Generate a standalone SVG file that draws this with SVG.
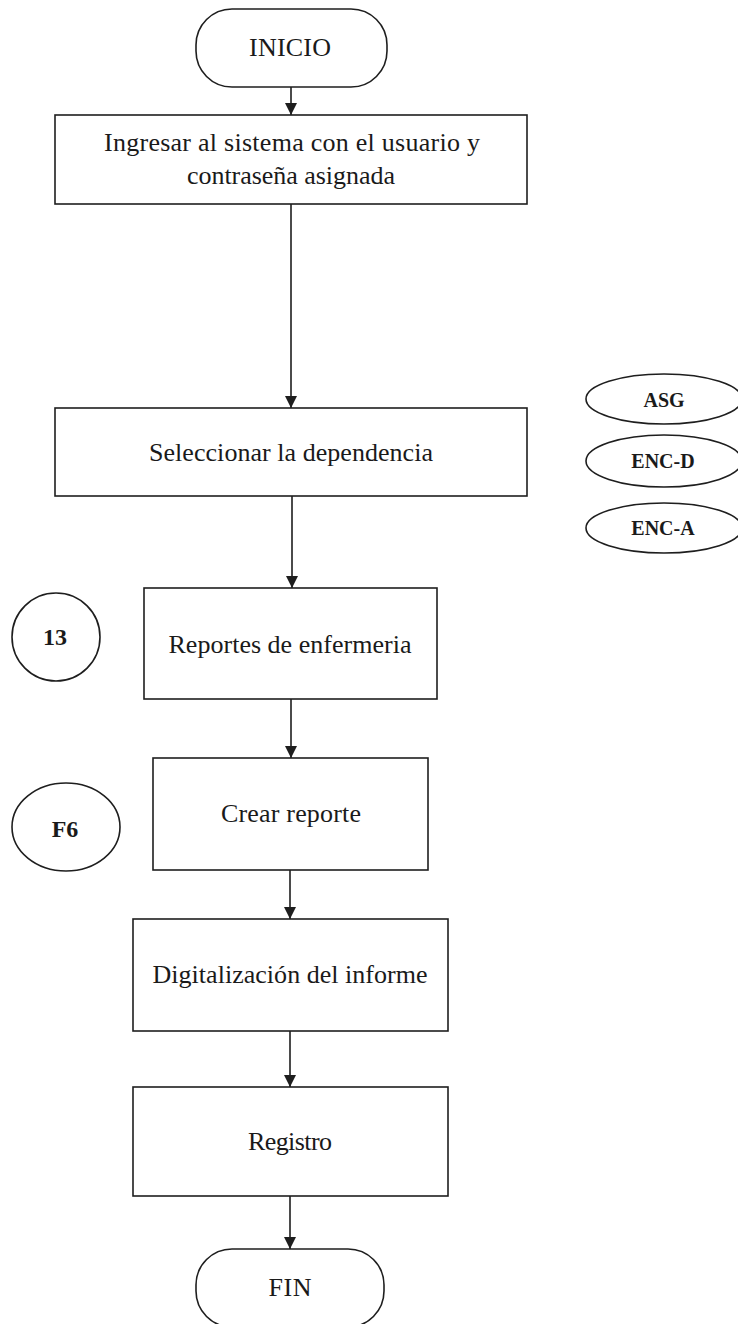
<svg xmlns="http://www.w3.org/2000/svg" width="738" height="1324" viewBox="0 0 738 1324">
  <defs>
    <style>
      .shape { fill: #ffffff; stroke: #1e1e1e; stroke-width: 1.6; }
      .flow { fill: none; stroke: #1e1e1e; stroke-width: 1.6; }
      .label { font-family: "Liberation Serif", "Times New Roman", serif; font-size: 26px; fill: #1a1a1a; text-anchor: middle; }
      .tag { font-family: "Liberation Serif", "Times New Roman", serif; font-size: 24px; font-weight: bold; fill: #1a1a1a; text-anchor: middle; }
      .code { font-family: "Liberation Serif", "Times New Roman", serif; font-size: 20px; font-weight: bold; fill: #1a1a1a; text-anchor: middle; }
    </style>
    <marker id="arrow" viewBox="0 0 12 12" refX="12" refY="6" markerWidth="12" markerHeight="12" markerUnits="userSpaceOnUse" orient="auto">
      <path d="M0,0 L12,6 L0,12 Z" fill="#1e1e1e"/>
    </marker>
  </defs>

  <rect width="738" height="1324" fill="#ffffff"/>

  <!-- connectors -->
  <g id="connectors">
    <line class="flow" x1="291" y1="87" x2="291" y2="115" marker-end="url(#arrow)"/>
    <line class="flow" x1="291" y1="204" x2="291" y2="408" marker-end="url(#arrow)"/>
    <line class="flow" x1="292" y1="496" x2="292" y2="588" marker-end="url(#arrow)"/>
    <line class="flow" x1="291" y1="699" x2="291" y2="758" marker-end="url(#arrow)"/>
    <line class="flow" x1="290" y1="870" x2="290" y2="919" marker-end="url(#arrow)"/>
    <line class="flow" x1="290" y1="1031" x2="290" y2="1087" marker-end="url(#arrow)"/>
    <line class="flow" x1="290" y1="1196" x2="290" y2="1249" marker-end="url(#arrow)"/>
  </g>

  <!-- main flow -->
  <g id="inicio">
    <rect class="shape" x="196" y="9" width="191" height="78" rx="36" ry="36"/>
    <text class="label" x="290" y="56" textLength="82">INICIO</text>
  </g>

  <g id="ingresar">
    <rect class="shape" x="55" y="115" width="472" height="89"/>
    <text class="label" x="292" y="151" textLength="376">Ingresar al sistema con el usuario y</text>
    <text class="label" x="291" y="184" textLength="208">contraseña asignada</text>
  </g>

  <g id="seleccionar">
    <rect class="shape" x="55" y="408" width="472" height="88"/>
    <text class="label" x="291" y="461" textLength="284">Seleccionar la dependencia</text>
  </g>

  <g id="reportes">
    <rect class="shape" x="144" y="588" width="293" height="111"/>
    <text class="label" x="290" y="653" textLength="243">Reportes de enfermeria</text>
  </g>

  <g id="crear">
    <rect class="shape" x="153" y="758" width="275" height="112"/>
    <text class="label" x="291" y="822" textLength="140">Crear reporte</text>
  </g>

  <g id="digitalizacion">
    <rect class="shape" x="133" y="919" width="315" height="112"/>
    <text class="label" x="290" y="983" textLength="275">Digitalización del informe</text>
  </g>

  <g id="registro">
    <rect class="shape" x="133" y="1087" width="315" height="109"/>
    <text class="label" x="290" y="1150" textLength="84">Registro</text>
  </g>

  <g id="fin">
    <rect class="shape" x="196" y="1249" width="188" height="78" rx="36" ry="36"/>
    <text class="label" x="290" y="1296" textLength="43">FIN</text>
  </g>

  <!-- side markers -->
  <g id="ref-13">
    <circle class="shape" cx="56" cy="637" r="44"/>
    <text class="tag" x="55" y="645">13</text>
  </g>

  <g id="ref-f6">
    <ellipse class="shape" cx="66" cy="827" rx="54" ry="44"/>
    <text class="tag" x="65" y="837">F6</text>
  </g>

  <g id="asg">
    <ellipse class="shape" cx="664" cy="399" rx="78" ry="25"/>
    <text class="code" x="664" y="407">ASG</text>
  </g>

  <g id="enc-d">
    <ellipse class="shape" cx="664" cy="461" rx="78" ry="26"/>
    <text class="code" x="663" y="468">ENC-D</text>
  </g>

  <g id="enc-a">
    <ellipse class="shape" cx="664" cy="528" rx="78" ry="25"/>
    <text class="code" x="663" y="535">ENC-A</text>
  </g>
</svg>
